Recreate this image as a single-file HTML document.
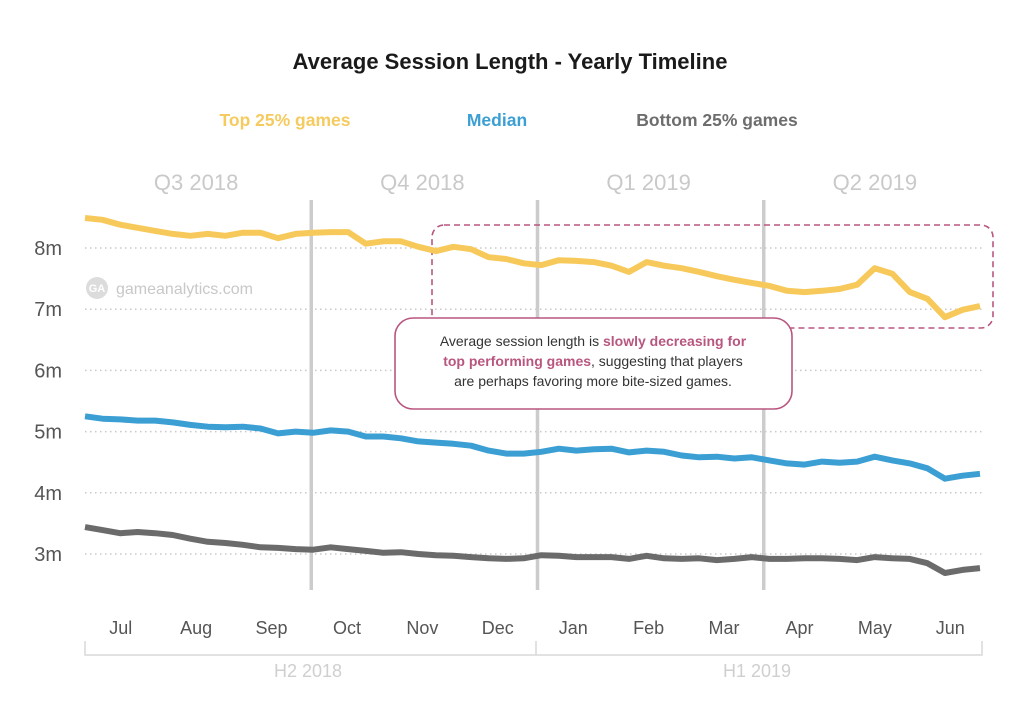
<!DOCTYPE html>
<html><head><meta charset="utf-8">
<style>
html,body{margin:0;padding:0;background:#fff;}
svg{display:block;font-family:"Liberation Sans",sans-serif;}
</style></head>
<body>
<svg id="chart" width="1024" height="713" viewBox="0 0 1024 713">
  <text x="510" y="69" text-anchor="middle" font-size="22" font-weight="bold" fill="#1a1a1a">Average Session Length - Yearly Timeline</text>
  <g>
    <text x="285" y="126" text-anchor="middle" font-size="17.5" font-weight="bold" fill="#f5cb5f">Top 25% games</text>
    <text x="497" y="126" text-anchor="middle" font-size="17.5" font-weight="bold" fill="#3b9fd4">Median</text>
    <text x="717" y="126" text-anchor="middle" font-size="17.5" font-weight="bold" fill="#6d6d6d">Bottom 25% games</text>
  </g>
  <g id="quarters"></g>
  <g id="grid"></g>
  <g id="yaxis"></g>
  <g>
    <circle cx="97" cy="288" r="11" fill="#dcdcdc"/>
    <text x="97" y="292" text-anchor="middle" font-size="11" font-weight="bold" fill="#fff">GA</text>
    <text x="116" y="294" font-size="16" fill="#c8c8c8">gameanalytics.com</text>
  </g>
  <g id="dividers"></g>
  <rect x="432" y="225" width="561" height="103" rx="12" fill="none" stroke="#b8567f" stroke-width="1.6" stroke-dasharray="6,4"/>
  <g id="series"></g>
  <g>
    <rect x="395" y="318" width="397" height="91" rx="18" fill="#fff" stroke="#b8567f" stroke-width="1.6"/>
    <text x="593" y="346" text-anchor="middle" font-size="14" fill="#333">Average session length is <tspan font-weight="bold" fill="#b8567f">slowly decreasing for</tspan></text>
    <text x="593" y="366" text-anchor="middle" font-size="14" fill="#333"><tspan font-weight="bold" fill="#b8567f">top performing games</tspan>, suggesting that players</text>
    <text x="593" y="386" text-anchor="middle" font-size="14" fill="#333">are perhaps favoring more bite-sized games.</text>
  </g>
  <g id="xaxis"></g>
  <g>
    <path d="M85,641 V655 H982 V641 M536,641 V655" fill="none" stroke="#d8d8d8" stroke-width="1.5"/>
    <text x="308" y="677" text-anchor="middle" font-size="18" fill="#cfcfcf">H2 2018</text>
    <text x="757" y="677" text-anchor="middle" font-size="18" fill="#cfcfcf">H1 2019</text>
  </g>
</svg>
<script>
const yTicks = [3,4,5,6,7,8];
const yTickLabels = ["3m","4m","5m","6m","7m","8m"];
const months = ["Jul","Aug","Sep","Oct","Nov","Dec","Jan","Feb","Mar","Apr","May","Jun"];
const quarters = ["Q3 2018","Q4 2018","Q1 2019","Q2 2019"];
const topValues = [8.49,8.46,8.38,8.33,8.28,8.23,8.20,8.23,8.20,8.25,8.25,8.16,8.23,8.25,8.26,8.26,8.07,8.11,8.11,8.02,7.95,8.02,7.98,7.85,7.82,7.75,7.72,7.80,7.79,7.77,7.71,7.61,7.77,7.71,7.67,7.61,7.54,7.48,7.43,7.38,7.30,7.28,7.30,7.33,7.40,7.67,7.58,7.28,7.17,6.87,6.99,7.05];
const medianValues = [5.25,5.21,5.20,5.18,5.18,5.15,5.11,5.08,5.07,5.08,5.05,4.97,5.00,4.98,5.02,5.00,4.92,4.92,4.89,4.84,4.82,4.80,4.77,4.69,4.64,4.64,4.67,4.72,4.69,4.71,4.72,4.66,4.69,4.67,4.61,4.58,4.59,4.56,4.58,4.53,4.48,4.46,4.51,4.49,4.51,4.59,4.53,4.48,4.40,4.23,4.28,4.31];
const bottomValues = [3.44,3.39,3.34,3.36,3.34,3.31,3.25,3.20,3.18,3.15,3.11,3.10,3.08,3.07,3.11,3.08,3.05,3.02,3.03,3.00,2.98,2.97,2.95,2.93,2.92,2.93,2.98,2.97,2.95,2.95,2.95,2.92,2.97,2.93,2.92,2.93,2.90,2.92,2.95,2.92,2.92,2.93,2.93,2.92,2.90,2.95,2.93,2.92,2.85,2.69,2.74,2.77];

const NS = "http://www.w3.org/2000/svg";
const X0 = 85, X1 = 980;
const nPts = topValues.length;
function xScale(i){ return X0 + i*(X1-X0)/(nPts-1); }
function yScale(v){ return 248 + (8 - v)*61.2; }
function mk(tag, attrs, parent){ const e=document.createElementNS(NS,tag); for(const k in attrs) e.setAttribute(k,attrs[k]); parent.appendChild(e); return e; }

const grid=document.getElementById('grid'), yaxis=document.getElementById('yaxis');
yTicks.forEach((t,i)=>{
  const l=mk('line',{x1:85,x2:985,y1:yScale(t),y2:yScale(t),stroke:'#c9c9c9','stroke-width':1.5,'stroke-dasharray':'1.5,3.5'},grid);
  
  
  const tx=mk('text',{x:62,y:yScale(t)+7,'text-anchor':'end','font-size':20,fill:'#555'},yaxis);
  tx.textContent=yTickLabels[i];
  
  
});

const xaxis=document.getElementById('xaxis');
const monthW=(X1-X0+10)/months.length;
months.forEach((m,i)=>{
  const tx=mk('text',{x:X0+ (i+0.5)*monthW - 2,y:634,'text-anchor':'middle','font-size':18,fill:'#555'},xaxis);
  tx.textContent=m;
  
  
});
const qg=document.getElementById('quarters'), dv=document.getElementById('dividers');
const divX=[311,538,760];
quarters.forEach((q,i)=>{
  const cx=X0+(i*3+1.5)*monthW - 2;
  const tx=mk('text',{x:cx,y:190,'text-anchor':'middle','font-size':22,fill:'#c9c9c9'},qg);
  tx.textContent=q;
  
  
  if(i>0){
    const dx=X0+i*3*monthW;
    const l=mk('line',{x1:dx,x2:dx,y1:200,y2:590,stroke:'#cccccc','stroke-width':3.5},dv);
    
    
  }
});

const sg=document.getElementById('series');
[[bottomValues,'#6b6b6b','bottom-25-line'],[medianValues,'#3b9fd4','median-line'],[topValues,'#f7c95a','top-25-line']].forEach(([vals,col,name])=>{
  const d=vals.map((v,i)=>(i?'L':'M')+xScale(i).toFixed(1)+','+yScale(v).toFixed(1)).join(' ');
  const p=mk('path',{d:d,fill:'none',stroke:col,'stroke-width':6,'stroke-linejoin':'round'},sg);
  
  
});
</script>
</body></html>
